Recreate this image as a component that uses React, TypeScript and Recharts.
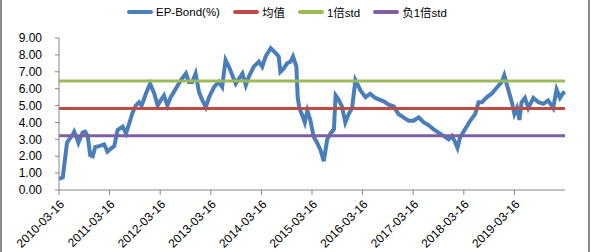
import {LineChart, Line, XAxis, YAxis, Legend} from 'recharts';

// months after 2010-03-16
const months = [
  0, 0.9, 1.9, 2.4, 3.1, 3.6, 4.2, 4.6, 5.6, 6.2, 6.8, 7.4, 8.0, 8.6, 9.5, 10.7, 11.5,
  12.3, 13.1, 13.9, 15.1, 15.9, 16.6, 17.4, 18.2, 19.0, 19.6, 20.6, 21.6, 22.6, 23.4,
  24.1, 24.9, 25.7, 26.5, 27.7, 28.9, 30.1, 30.8, 31.6, 32.4, 33.2, 34.0, 34.8, 35.6,
  36.8, 37.9, 38.7, 39.5, 40.3, 41.1, 41.9, 42.7, 43.5, 44.3, 45.0, 46.2, 47.4, 48.2,
  49.0, 50.2, 51.4, 52.1, 52.5, 53.3, 54.1, 54.9, 55.5, 56.3, 56.6, 57.0, 57.8, 58.3,
  58.9, 59.6, 60.4, 61.2, 62.0, 62.8, 63.6, 64.4, 65.2, 65.6, 66.3, 67.1, 67.9, 68.7,
  69.5, 70.3, 71.5, 72.7, 73.8, 75.0, 77.0, 78.2, 79.4, 80.5, 81.7, 82.9, 84.1, 85.3,
  86.5, 87.6, 88.8, 90.0, 91.2, 92.4, 93.2, 94.0, 94.5, 95.1, 96.3, 97.5, 98.7, 99.5,
  100.3, 101.5, 102.6, 103.8, 105.0, 105.6, 106.6, 107.4, 108.0, 108.6, 109.2, 109.7,
  110.5, 111.3, 112.5, 113.7, 114.9, 116.0, 117.2, 118.0, 118.8, 119.6, 120,
];

const epBond = [
  0.65, 0.75, 2.8, 3.0, 3.2, 3.45, 3.1, 2.8, 3.4, 3.45, 3.2, 2.07, 2.0, 2.55, 2.6, 2.7, 2.27,
  2.45, 2.6, 3.55, 3.75, 3.35, 3.9, 4.55, 5.0, 5.2, 5.0, 5.7, 6.3, 5.7, 5.0,
  5.3, 5.6, 5.0, 5.5, 6.0, 6.5, 6.9, 6.4, 6.4, 6.9, 5.8, 5.3, 4.9, 5.5,
  6.1, 6.4, 6.1, 7.7, 7.3, 6.8, 6.3, 6.6, 6.9, 6.2, 6.7, 7.3, 7.6, 7.3,
  7.9, 8.4, 8.1, 7.9, 7.0, 7.2, 7.5, 7.6, 7.9, 7.3, 5.5, 4.85, 4.35, 4.0,
  4.7, 4.15, 3.15, 2.8, 2.37, 1.7, 3.0, 3.35, 3.6, 5.6, 5.35, 4.95, 4.0, 4.5,
  4.85, 6.5, 5.9, 5.5, 5.7, 5.45, 5.25, 5.05, 4.95, 4.5, 4.3, 4.1, 4.1, 4.3,
  4.0, 3.85, 3.6, 3.4, 3.2, 3.0, 3.2, 2.8, 2.5, 3.1, 3.6, 4.1, 4.5, 5.2,
  5.2, 5.5, 5.7, 6.05, 6.4, 6.8, 5.9, 5.2, 4.5, 4.85, 4.15, 5.2,
  5.45, 4.85, 5.45, 5.2, 5.1, 5.3, 4.85, 5.95, 5.45, 5.75, 5.8,
];

const meanValue = 4.83;
const plusStd = 6.45;
const minusStd = 3.21;

const tickMonths = [0, 12, 24, 36, 48, 60, 72, 84, 96, 108];
const tickLabels = [
  '2010-03-16', '2011-03-16', '2012-03-16', '2013-03-16', '2014-03-16',
  '2015-03-16', '2016-03-16', '2017-03-16', '2018-03-16', '2019-03-16',
];
const yTicks = [0, 1, 2, 3, 4, 5, 6, 7, 8, 9];

const series = [
  {key: 'ep', label: 'EP-Bond(%)', color: '#4a7ebb', width: 4},
  {key: 'mean', label: '均值', color: '#be4b48', width: 3},
  {key: 'up', label: '1倍std', color: '#9bbb59', width: 3},
  {key: 'down', label: '负1倍std', color: '#7d60a0', width: 3},
];

const data = months.map((m, i) => ({
  m,
  ep: epBond[i],
  mean: meanValue,
  up: plusStd,
  down: minusStd,
}));

const font = '"Liberation Sans", "Noto Sans CJK SC", Arial, sans-serif';

function DateTick({x, y, payload}: {x?: number; y?: number; payload?: {value: number}}) {
  const idx = tickMonths.indexOf(payload?.value ?? -1);
  return (
    <text
      transform={`translate(${(x ?? 0) + 3},${(y ?? 0) + 5}) rotate(-45)`}
      textAnchor="end"
      dy="0.35em"
      fontSize={12}
      fontFamily={font}
      fill="#000"
    >
      {tickLabels[idx]}
    </text>
  );
}

function ChartLegend() {
  return (
    <div
      style={{
        display: 'flex',
        justifyContent: 'center',
        alignItems: 'center',
        height: 18,
        fontFamily: font,
        fontSize: 11.5,
        color: '#000',
        paddingLeft: 22,
      }}
    >
      {series.map((s) => (
        <span key={s.key} style={{display: 'flex', alignItems: 'center', marginRight: 13}}>
          <span
            style={{
              display: 'inline-block',
              width: 26,
              height: 4,
              borderRadius: 2,
              backgroundColor: s.color,
              marginRight: 3,
            }}
          />
          {s.label}
        </span>
      ))}
    </div>
  );
}

export default function App() {
  return (
    <div
      style={{
        position: 'absolute',
        left: 0,
        top: 0,
        width: 592,
        height: 252,
        background: '#fff',
        overflow: 'hidden',
      }}
    >
      <div style={{position: 'absolute', left: 0, top: 0, width: 2, height: 252, background: '#8a8a8a'}} />
      <div style={{position: 'absolute', left: 588, top: 0, width: 2, height: 252, background: '#8a8a8a'}} />
      <LineChart
        width={592}
        height={252}
        data={data}
        margin={{top: 20, right: 27, bottom: 0, left: 0}}
      >
        <XAxis
          dataKey="m"
          type="number"
          domain={[0, 120]}
          ticks={tickMonths}
          tick={<DateTick />}
          interval={0}
          height={62}
          stroke="#868686"
          tickSize={5}
          tickMargin={2}
        />
        <YAxis
          domain={[0, 9]}
          ticks={yTicks}
          tickFormatter={(v) => v.toFixed(2)}
          width={59}
          stroke="#868686"
          tickSize={4}
          tickMargin={13}
          tick={{fill: '#000', fontSize: 12, fontFamily: font}}
          interval={0}
        />
        <Legend verticalAlign="top" content={<ChartLegend />} wrapperStyle={{top: 3}} />
        {series.map((s) => (
          <Line
            key={s.key}
            type="linear"
            dataKey={s.key}
            name={s.label}
            stroke={s.color}
            strokeWidth={s.width}
            dot={false}
            isAnimationActive={false}
          />
        ))}
      </LineChart>
    </div>
  );
}
